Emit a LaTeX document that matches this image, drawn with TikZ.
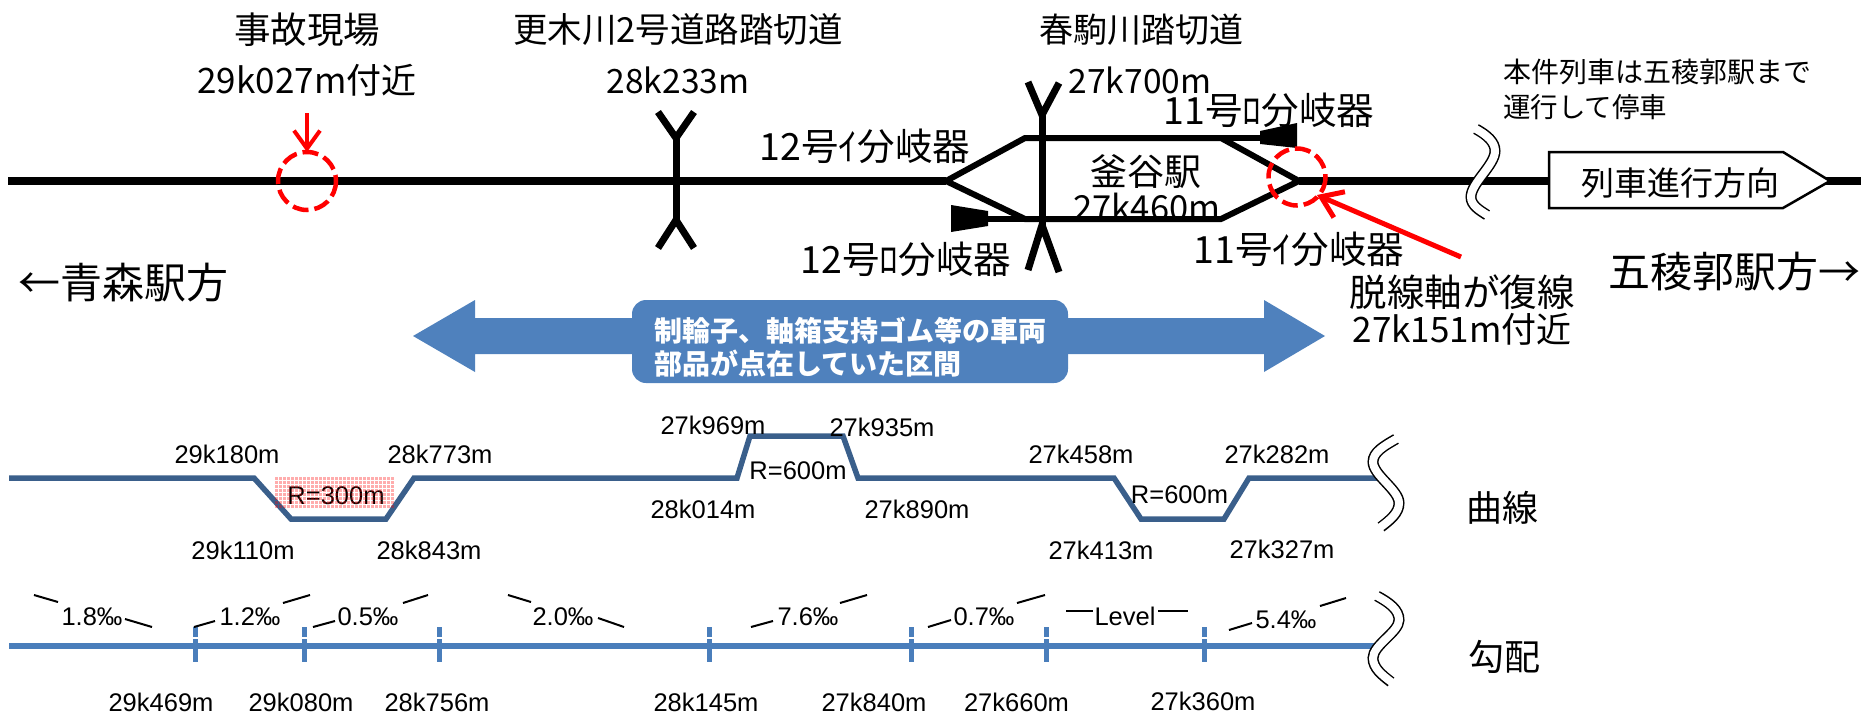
\documentclass[tikz,border=0pt]{standalone}
\usepackage{fontspec}
\setmainfont{Noto Sans CJK JP}
\newfontfamily\arialish{Liberation Sans}
\usetikzlibrary{arrows.meta}
\definecolor{curveblue}{HTML}{3A5F8B}
\definecolor{gradblue}{HTML}{4A7EBB}
\definecolor{fillblue}{HTML}{4F81BD}
\newcommand{\fsz}[1]{\fontsize{#1pt}{#1pt}\selectfont}
\tikzset{
  x=1pt,y=-1pt,
  lab/.style={inner sep=0pt,anchor=center,text=black},
  big/.style={lab,font=\fsz{33.5}},
  switchlab/.style={lab,font=\fsz{37.5}},
  large/.style={lab,font=\fsz{42}},
  note/.style={lab,font=\fsz{27.5},anchor=west},
  km/.style={lab,font=\arialish\fsz{25.5}},
  track/.style={line width=8pt,black,line join=miter},
  branch/.style={line width=6pt,black,line join=miter},
  xing/.style={line width=7pt,black,line join=miter},
  redcirc/.style={red,line width=4.5pt,dash pattern=on 16pt off 6pt},
  redarrow/.style={red,line width=4pt,-{Straight Barb[length=18pt,width=26pt,line width=4pt]}},
  curveline/.style={line width=5.5pt,curveblue,line join=miter},
  gradline/.style={line width=6pt,gradblue},
  tick/.style={line width=5pt,gradblue},
  slope/.style={line width=2pt,black},
  breakouter/.style={line width=11pt,black},
  breakinner/.style={line width=8pt,white},
  sig/.style={fill=black,draw=none},
}
\begin{document}
\begin{tikzpicture}
\useasboundingbox (0,0) rectangle (1861,713);
% track
\coordinate (tl) at (8,181);
\coordinate (jl) at (946,181);
\coordinate (ju) at (1025,138);
\coordinate (jd) at (1025,219);
\coordinate (ku) at (1221,138);
\coordinate (kd) at (1221,219);
\coordinate (jr) at (1299,181);
\coordinate (te) at (1861,181);
\draw[branch] (jl) -- (ju) -- (ku) -- (jr) -- (kd) -- (jd) -- cycle;
\draw[track] (tl) -- (jl);
\draw[track] (jr) -- (te);
% signals
\draw[branch] (ku) -- (1262,138);
\fill[sig] (1260,131) -- (1297,123) -- (1297,148) -- (1260,144) -- cycle;
\draw[branch] (jd) -- (986,219);
\fill[sig] (951,205) -- (988,211) -- (988,226) -- (951,232) -- cycle;
% level crossings
\draw[xing] (658,112) -- (676,138) -- (694,112);
\draw[xing] (658,248) -- (676,220) -- (694,248);
\draw[xing] (676,138) -- (676,220);
\draw[xing] (1028,82) -- (1042,115) -- (1059,83);
\draw[xing] (1028,270) -- (1042,225) -- (1059,272);
\draw[xing] (1042,115) -- (1042,225);
% break on the main line
\draw[breakouter] (1476,129) .. controls (1487,135) and (1495,142) .. (1495,151) .. controls (1495,165) and (1471,183) .. (1471,197) .. controls (1471,205) and (1479,210) .. (1487,215);
\draw[breakinner] (1475,128.5) .. controls (1487,135) and (1495,142) .. (1495,151) .. controls (1495,165) and (1471,183) .. (1471,197) .. controls (1471,205) and (1479,210) .. (1488,215.5);
% train direction box
\draw[black,line width=2.5pt,fill=white,line join=miter] (1549,152) -- (1783,152) -- (1830,181) -- (1783,208) -- (1549,208) -- cycle;
\node[lab,font=\fsz{33}] (dirtext) at (1680,183) {列車進行方向};
% red marks
\draw[redcirc] (307,181) circle[radius=29];
\coordinate (a1s) at (307,113);
\coordinate (a1e) at (307,152);
\draw[redarrow] (a1s) -- (a1e);
\draw[redcirc] (1297,177) circle[radius=28.5];
\coordinate (a2s) at (1461,257);
\coordinate (a2e) at (1317,195);
\draw[redarrow,line width=5pt,-{Straight Barb[length=20pt,width=28pt,line width=5pt]}] (a2s) -- (a2e);
% top texts
\node[lab,font=\fsz{36.5}] (t1) at (307,30) {事故現場};
\node[lab,font=\fsz{35}] (t2) at (307,80) {29k027m付近};
\node[lab,font=\fsz{34.5}] (t3) at (678,30) {更木川2号道路踏切道};
\node[big] (t4) at (678,80) {28k233m};
\node[switchlab] (t5) at (865,146) {12号ｲ分岐器};
\node[switchlab] (t6) at (906,259) {12号ﾛ分岐器};
\node[lab,font=\fsz{34}] (t7) at (1141,30) {春駒川踏切道};
\node[big] (t8) at (1140,80) {27k700m};
\node[switchlab] (t9) at (1269,110) {11号ﾛ分岐器};
\node[lab,font=\fsz{37}] (t10) at (1146,172) {釜谷駅};
\node[lab,font=\fsz{34.5}] (t11) at (1147,207) {27k460m};
\node[switchlab] (t12) at (1299,249) {11号ｲ分岐器};
\node[lab,font=\fsz{37.5}] (t13) at (1462,292) {脱線軸が復線};
\node[lab,font=\fsz{35}] (t14) at (1462,329) {27k151m付近};
\node[large] (t15) at (1734,272) {五稜郭駅方→};
\node[large] (t16) at (124,283) {←青森駅方};
\node[note,font=\fsz{28}] (t17) at (1503,72) {本件列車は五稜郭駅まで};
\node[note] (t18) at (1503,107) {運行して停車};
% blue double arrow
\fill[fillblue] (413,336) -- (475,300) -- (475,318) -- (1264,318) -- (1264,300) -- (1325,336) -- (1264,372) -- (1264,354) -- (475,354) -- (475,372) -- cycle;
\fill[fillblue,rounded corners=14pt] (632,300) rectangle (1068,383);
\node[lab,anchor=west,text=white,font=\fsz{28}\bfseries] (b1) at (654,331) {制輪子、軸箱支持ゴム等の車両};
\node[lab,anchor=west,text=white,font=\fsz{28}\bfseries] (b2) at (654,364) {部品が点在していた区間};
% curve profile
\draw[curveline] (9,478) -- (254,478) -- (291,519) -- (386,519) -- (414,478) -- (737,478) -- (750,436) -- (843,436) -- (858,478) -- (1114,478) -- (1141,519) -- (1224,519) -- (1249,478) -- (1378,478);
\draw[breakouter] (1396,439) .. controls (1384,446) and (1373,452) .. (1373,462) .. controls (1373,475) and (1399,490) .. (1399,503) .. controls (1399,513) and (1390,520) .. (1381,527);
\draw[breakinner] (1397,438.5) .. controls (1384,446) and (1373,452) .. (1373,462) .. controls (1373,475) and (1399,490) .. (1399,503) .. controls (1399,513) and (1390,520) .. (1380,527.5);
\foreach \n/\px/\py/\t in {c1/227/454/29k180m,c2/440/454/28k773m,c3/713/425/27k969m,c4/882/427/27k935m,c5/703/509/28k014m,c6/917/509/27k890m,c7/243/550/29k110m,c8/429/550/28k843m,c9/336/496/R=300m,c10/798/471/R=600m,c11/1081/454/27k458m,c12/1277/454/27k282m,c13/1179.5/495/R=600m,c14/1101/550/27k413m,c15/1282/549/27k327m}
  \node[km] (\n) at (\px,\py) {\t};
% dotted pink patch over the R=300m label
\foreach \i in {0,...,29}
  \foreach \j in {0,...,7}
    \fill[red,opacity=0.32] (275+4*\i,477+4*\j) rectangle ++(3,3);
\node[lab,font=\fsz{36}] (curvelab) at (1502,508) {曲線};
% gradient profile
\draw[gradline] (9,646) -- (1378,646);
\foreach \n/\px in {g1/195,g2/304,g3/439,g4/709,g5/911,g6/1046,g7/1204}{
  \coordinate (\n t) at (\px,627);
  \coordinate (\n m) at (\px,637);
  \coordinate (\n n) at (\px,639);
  \coordinate (\n b) at (\px,662);
  \draw[tick] (\n t) -- (\n m);
  \draw[tick] (\n n) -- (\n b);
}
\draw[breakouter] (1377,596) .. controls (1390,603) and (1399,610) .. (1399,620) .. controls (1399,632) and (1373,645) .. (1373,658) .. controls (1373,668) and (1382,675) .. (1391,682);
\draw[breakinner] (1376,595.5) .. controls (1390,603) and (1399,610) .. (1399,620) .. controls (1399,632) and (1373,645) .. (1373,658) .. controls (1373,668) and (1382,675) .. (1392,682.5);
\foreach \n/\px/\py/\t in {s1/92/617/1.8‰,s2/250/617/1.2‰,s3/368/617/0.5‰,s4/563/617/2.0‰,s5/808/617/7.6‰,s6/984/617/0.7‰,s7/1125/616/Level,s8/1286/620/5.4‰,d1/161/702/29k469m,d2/301/702/29k080m,d3/437/702/28k756m,d4/706/702/28k145m,d5/874/702/27k840m,d6/1016.5/702/27k660m,d7/1203/701/27k360m}
  \node[km] (\n) at (\px,\py) {\t};
\foreach \xa/\ya/\xb/\yb in {34/595/58/602,125/619/152/627,194/627/215/621,283/603/310/595,313/627/335/621,403/603/428/595,508/595/531/602,598/618/624/627,751/627/773/621,840/603/867/595,928/627/951/620,1017/603/1045/595,1066/611/1093/611,1158/611/1188/611,1229/630/1252/623,1320/606/1346/598}
  \draw[slope] (\xa,\ya) -- (\xb,\yb);
\node[lab,font=\fsz{36}] (gradlab) at (1504,657) {勾配};
\end{tikzpicture}
\end{document}
